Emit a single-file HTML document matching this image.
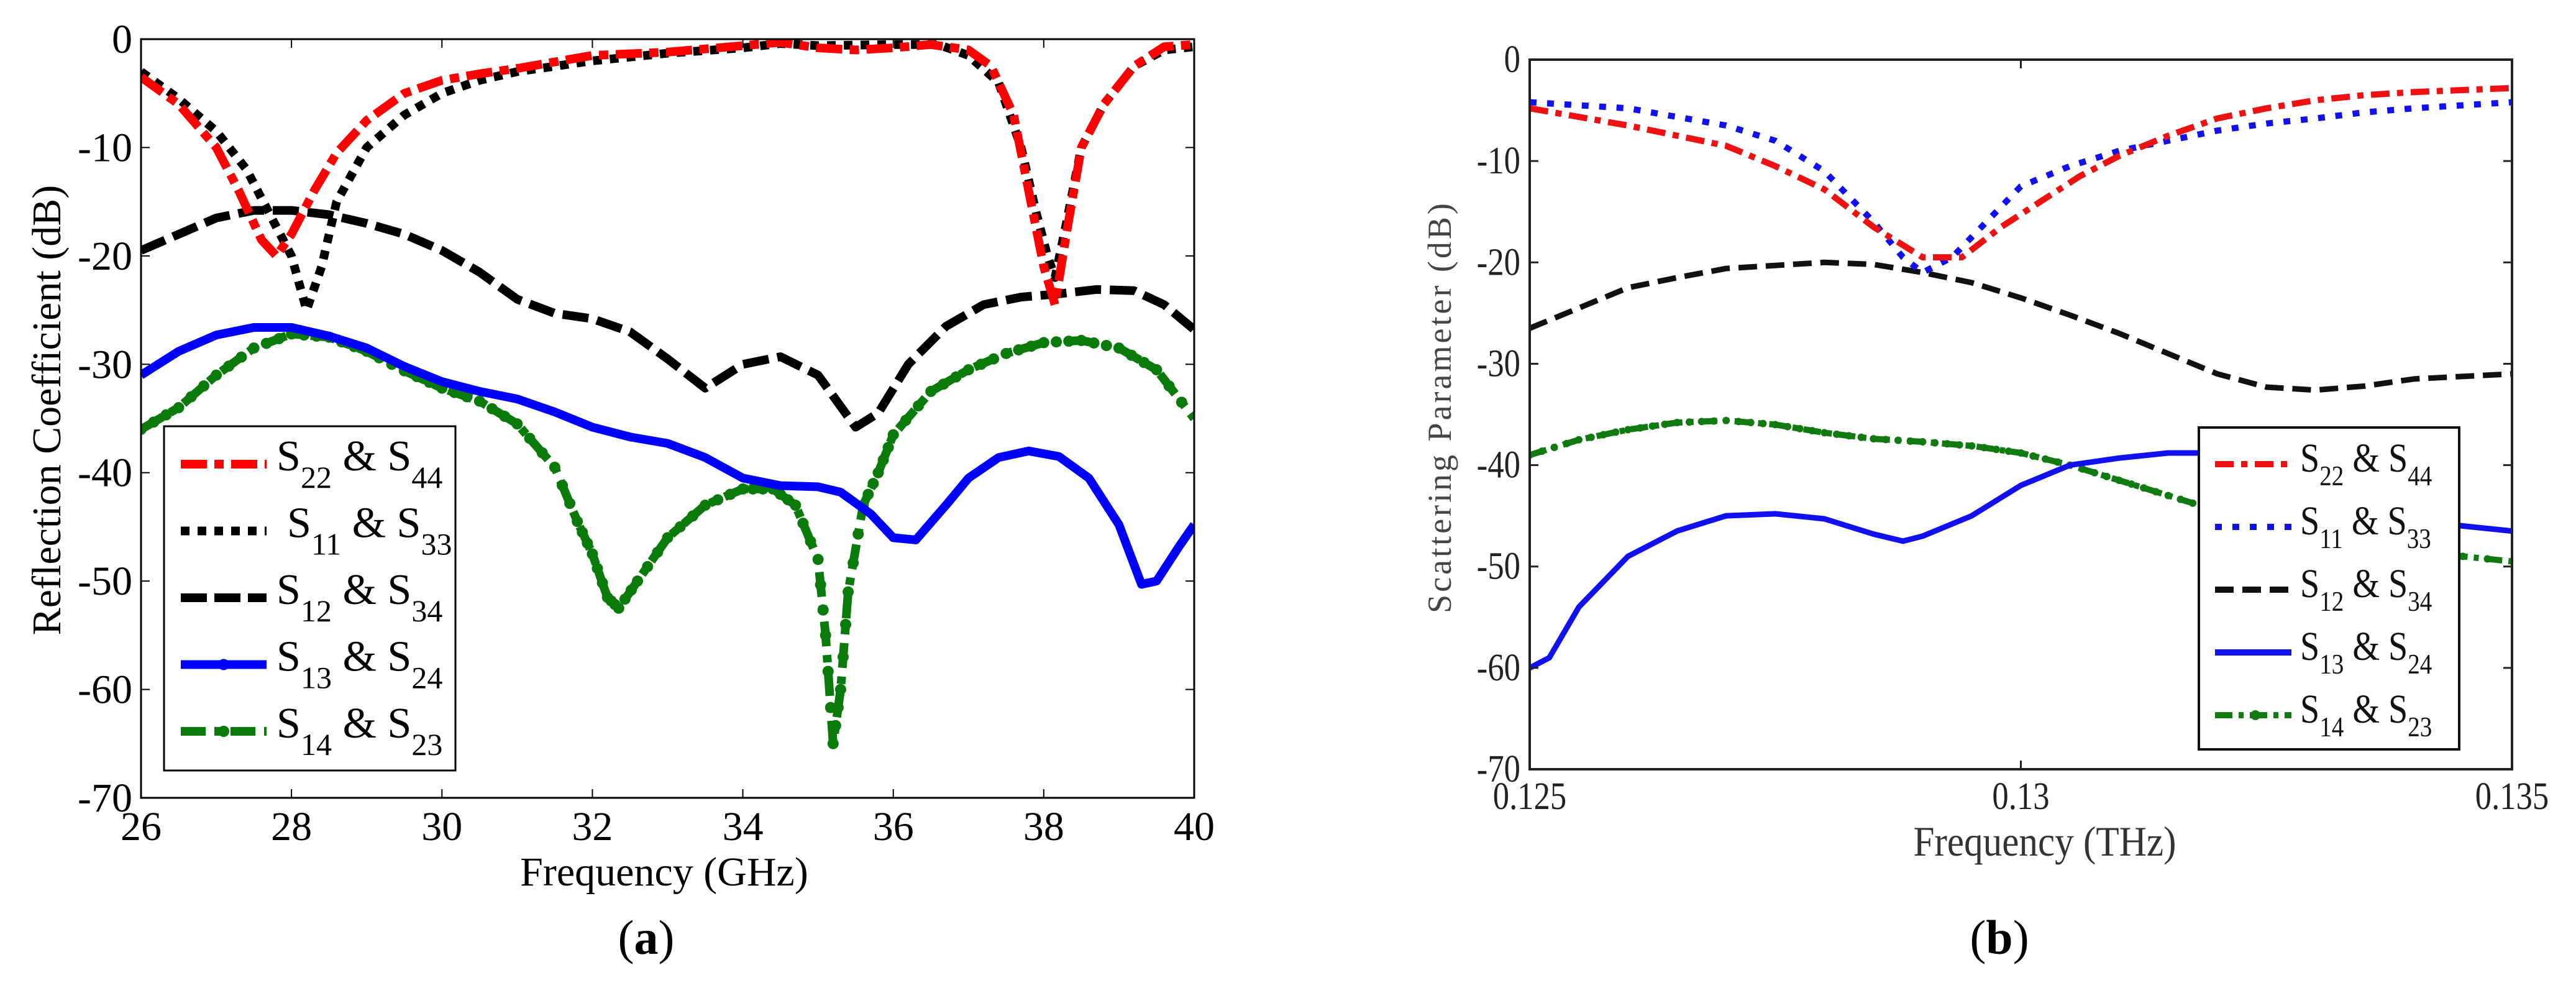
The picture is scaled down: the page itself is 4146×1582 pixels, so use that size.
<!DOCTYPE html>
<html><head><meta charset="utf-8"><style>
html,body{margin:0;padding:0;background:#fff;}
svg{display:block;}
svg text{font-family:"Liberation Serif","DejaVu Serif",serif;}
</style></head>
<body>
<svg id="fig" width="4146" height="1582" viewBox="0 0 4146 1582" xmlns="http://www.w3.org/2000/svg" font-family="Liberation Serif, DejaVu Serif, serif">
<g id="pa"></g>
<g id="pb"></g>
</svg>
<script>
// ===== Panel (a) data =====
const aS22x=[26,26.5,27,27.3,27.6,27.8,28,28.3,28.6,29,29.5,30,30.5,31,32,33,34,34.5,35,35.5,36,36.5,37,37.3,37.6,37.8,38,38.15,38.3,38.5,38.8,39.2,39.6,40];
const aS22y=[-3.5,-6,-10,-14,-18.5,-20,-18,-14,-10.5,-7.5,-5,-3.8,-3.2,-2.7,-1.5,-1.2,-0.6,-0.3,-0.8,-1,-0.8,-0.5,-1,-2.5,-7,-14,-21,-24.5,-18,-10,-6,-2.5,-0.7,-0.5];
const aS11x=[26,26.5,27,27.4,27.7,28,28.2,28.4,28.6,29,29.5,30,30.5,31,32,33,34,34.5,35,36,36.6,37,37.4,37.7,37.9,38.05,38.15,38.3,38.5,38.8,39.2,39.6,40];
const aS11y=[-3,-5.5,-8.5,-12,-16,-20,-25,-21,-15,-10,-7,-5,-3.8,-3,-2,-1.3,-0.8,-0.4,-0.6,-0.5,-0.5,-1.5,-4,-10,-16,-20,-22,-17,-10,-6,-2.5,-1,-0.7];
const aS12x=[26,26.5,27,27.5,28,28.5,29,29.5,30,30.5,31,31.5,32,32.5,33,33.5,34,34.5,35,35.5,35.8,36.2,36.7,37.2,37.7,38.2,38.7,39.2,39.6,40];
const aS12y=[-19.5,-18,-16.5,-15.8,-15.8,-16.2,-17,-18,-19.5,-21.5,-24,-25.3,-25.8,-27,-29.5,-32.2,-30,-29.3,-31,-35.8,-34.5,-30,-26.5,-24.5,-23.8,-23.5,-23.1,-23.2,-24.5,-26.8];
const aS13x=[26,26.5,27,27.5,28,28.5,29,29.5,30,30.5,31,31.5,32,32.5,33,33.5,34,34.5,35,35.3,35.7,36,36.3,36.7,37,37.4,37.8,38.2,38.6,39,39.3,39.5,39.8,40];
const aS13y=[-31,-28.8,-27.3,-26.6,-26.6,-27.4,-28.5,-30.2,-31.6,-32.5,-33.2,-34.4,-35.8,-36.7,-37.3,-38.6,-40.5,-41.2,-41.3,-41.8,-43.8,-46,-46.2,-43,-40.5,-38.6,-38,-38.5,-40.5,-44.8,-50.3,-50,-46.8,-44.8];
const aS14x=[26,26.5,27,27.5,28,28.5,29,29.5,30,30.5,31,31.5,31.8,32,32.2,32.35,32.6,33,33.5,34,34.4,34.7,35,35.1,35.2,35.3,35.4,35.6,35.8,36,36.5,37,37.5,38,38.5,39,39.5,40];
const aS14y=[-36,-34,-31,-28.5,-27.2,-27.5,-28.8,-30.6,-32.2,-33.4,-35.5,-39.5,-44.5,-47.5,-51.5,-52.5,-50,-46,-43,-41.5,-41.5,-43,-48,-55,-65,-60,-51,-43,-40,-36.5,-32.5,-30.5,-29,-28,-27.8,-28.5,-30.5,-35];
const aXTicks=[26,28,30,32,34,36,38,40];
const aYTicks=[0,-10,-20,-30,-40,-50,-60,-70];

// ===== Panel (b) data =====
const bS22x=[0.125,0.126,0.127,0.1275,0.128,0.1285,0.129,0.1294,0.1298,0.1302,0.1306,0.131,0.1315,0.132,0.1325,0.133,0.1335,0.134,0.135];
const bS22y=[-4.8,-6.5,-8.5,-10.5,-12.8,-16.5,-19.5,-19.5,-16.5,-14,-11.5,-9.5,-7.5,-5.8,-4.8,-4,-3.5,-3.2,-2.8];
const bS11x=[0.125,0.126,0.127,0.1275,0.128,0.1285,0.1288,0.129,0.1293,0.1296,0.13,0.1305,0.131,0.1315,0.132,0.1325,0.133,0.1335,0.134,0.135];
const bS11y=[-4.2,-4.8,-6.5,-8,-11,-16,-19.5,-21,-19.5,-16.5,-12.5,-10.5,-9,-8,-7,-6.3,-5.8,-5.2,-4.8,-4.2];
const bS12x=[0.125,0.1255,0.126,0.1265,0.127,0.1275,0.128,0.1285,0.129,0.1295,0.13,0.1305,0.131,0.1315,0.132,0.1325,0.133,0.1335,0.134,0.135];
const bS12y=[-26.5,-24.5,-22.5,-21.5,-20.6,-20.3,-20,-20.2,-21,-22,-23.5,-25.2,-27,-29,-31,-32.3,-32.6,-32.2,-31.5,-31];
const bS13x=[0.125,0.1252,0.1255,0.126,0.1265,0.127,0.1275,0.128,0.1285,0.1288,0.129,0.1295,0.13,0.1305,0.131,0.1315,0.132,0.1325,0.133,0.1335,0.134,0.135];
const bS13y=[-60,-59,-54,-49,-46.5,-45,-44.8,-45.3,-46.8,-47.5,-47,-45,-42,-40,-39.3,-38.8,-38.8,-40,-42,-44,-45.5,-46.5];
const bS14x=[0.125,0.1255,0.126,0.1265,0.127,0.1275,0.128,0.1285,0.129,0.1295,0.13,0.1305,0.131,0.1315,0.132,0.1325,0.133,0.1335,0.134,0.135];
const bS14y=[-39,-37.5,-36.5,-35.8,-35.6,-36,-36.8,-37.4,-37.7,-38.1,-38.8,-40,-41.5,-43,-44.5,-45.8,-47,-47.8,-48.5,-49.5];
const bXTicks=[0.125,0.13,0.135];
const bXLabels=["0.125","0.13","0.135"];
const bYTicks=[0,-10,-20,-30,-40,-50,-60,-70];

const NS="http://www.w3.org/2000/svg";
const FF="Liberation Serif, DejaVu Serif, serif";
function mk(parent,tag,attrs){const e=document.createElementNS(NS,tag);for(const k in attrs)e.setAttribute(k,attrs[k]);if(tag==='text')e.setAttribute('font-family',FF);parent.appendChild(e);return e;}
function pathD(xs,ys,X,Y){let d="";for(let i=0;i<xs.length;i++){d+=(i?"L":"M")+X(xs[i]).toFixed(1)+","+Y(ys[i]).toFixed(1);}return d;}

// ---------- Panel A ----------
(function(){
const g=document.getElementById('pa');
const L=227,R=1922,T=63,B=1284;
const X=v=>L+(v-26)/(40-26)*(R-L);
const Y=v=>T+(0-v)/70*(B-T);
const cp=mk(g,'clipPath',{id:'clipA'});mk(cp,'rect',{x:L,y:T,width:R-L,height:B-T});
const series=[
 {x:aS14x,y:aS14y,c:'#0a7a0a',w:14,da:'40 14 12 14',m:true,n:'series-s14-s23'},
 {x:aS13x,y:aS13y,c:'#0000ff',w:14,da:'',n:'series-s13-s24'},
 {x:aS12x,y:aS12y,c:'#000',w:14,da:'42 14',n:'series-s12-s34'},
 {x:aS11x,y:aS11y,c:'#000',w:14,da:'14 13',n:'series-s11-s33'},
 {x:aS22x,y:aS22y,c:'#ff0000',w:14,da:'42 12 15 12',n:'series-s22-s44'}];
series.forEach(s=>{
 const p=mk(g,'path',{d:pathD(s.x,s.y,X,Y),fill:'none',stroke:s.c,'stroke-width':s.w,'stroke-dasharray':s.da,'stroke-linejoin':'round','clip-path':'url(#clipA)'});
 
 
 if(s.m){for(let i=0;i<s.x.length-1;i++){for(let k=0;k<3;k++){const f=k/3;
  const c=mk(g,'circle',{cx:X(s.x[i]+(s.x[i+1]-s.x[i])*f),cy:Y(s.y[i]+(s.y[i+1]-s.y[i])*f),r:9,fill:s.c,'clip-path':'url(#clipA)'});
  
  }}}
});
const fr=mk(g,'rect',{x:L,y:T,width:R-L,height:B-T,fill:'none',stroke:'#000','stroke-width':3});


aXTicks.forEach(v=>{mk(g,'line',{x1:X(v),x2:X(v),y1:B,y2:B-14,stroke:'#000','stroke-width':2});mk(g,'line',{x1:X(v),x2:X(v),y1:T,y2:T+14,stroke:'#000','stroke-width':2});
 const t=mk(g,'text',{x:X(v),y:1352,'font-size':66,'text-anchor':'middle'});t.textContent=v;
 
 });
aYTicks.forEach(v=>{mk(g,'line',{x1:L,x2:L+14,y1:Y(v),y2:Y(v),stroke:'#000','stroke-width':2});mk(g,'line',{x1:R,x2:R-14,y1:Y(v),y2:Y(v),stroke:'#000','stroke-width':2});
 const t=mk(g,'text',{x:213,y:Y(v)+22,'font-size':66,'text-anchor':'end'});t.textContent=v;
 
 });
const xt=mk(g,'text',{x:1069,y:1425,'font-size':66,'text-anchor':'middle'});xt.textContent='Frequency (GHz)';


const yt=mk(g,'text',{x:0,y:0,'font-size':66,'text-anchor':'middle',transform:'translate(97,660) rotate(-90)'});yt.textContent='Reflection Coefficient (dB)';


const lg=mk(g,'g',{});


mk(lg,'rect',{x:264,y:686,width:469,height:554,fill:'#fff',stroke:'#000','stroke-width':3});
const ent=[['#ff0000','42 12 15 12','22','44',false,445],['#000','14 13','11','33',false,462],['#000','42 12','12','34',false,445],['#0000ff','','13','24',true,445],['#0a7a0a','40 14 12 14','14','23',true,445]];
ent.forEach((e,i)=>{const cy=747+i*107.5;
 const gg=mk(lg,'g',{});
 
 
 mk(gg,'line',{x1:291,x2:429,y1:cy,y2:cy,stroke:e[0],'stroke-width':14,'stroke-dasharray':e[1]});
 if(e[4])mk(gg,'circle',{cx:360,cy:cy,r:9,fill:e[0]});
 const t=mk(gg,'text',{x:e[5],y:cy+10,'font-size':70});
 t.innerHTML='S<tspan font-size="50" dy="28">'+e[2]+'</tspan><tspan dy="-28"> &amp; S</tspan><tspan font-size="50" dy="28">'+e[3]+'</tspan>';});
const cap=mk(g,'text',{x:1040,y:1535,'font-size':78,'text-anchor':'middle'});cap.innerHTML='(<tspan font-weight="bold">a</tspan>)';


})();

// ---------- Panel B ----------
(function(){
const g=document.getElementById('pb');
const L=2462,R=4043,T=96,B=1238;
const X=v=>L+(v-0.125)/(0.135-0.125)*(R-L);
const Y=v=>T+(0-v)/70*(B-T);
const cp=mk(g,'clipPath',{id:'clipB'});mk(cp,'rect',{x:L,y:T,width:R-L,height:B-T});
const series=[
 {x:bS14x,y:bS14y,c:'#117a11',w:10,da:'28 10 8 10',m:true,n:'series-b-s14-s23'},
 {x:bS13x,y:bS13y,c:'#1010f0',w:9,da:'',n:'series-b-s13-s24'},
 {x:bS12x,y:bS12y,c:'#111',w:9,da:'30 14',n:'series-b-s12-s34'},
 {x:bS11x,y:bS11y,c:'#1010f0',w:10,da:'11 17',n:'series-b-s11-s33'},
 {x:bS22x,y:bS22y,c:'#ee1111',w:10,da:'30 12 10 12',n:'series-b-s22-s44'}];
series.forEach(s=>{
 const p=mk(g,'path',{d:pathD(s.x,s.y,X,Y),fill:'none',stroke:s.c,'stroke-width':s.w,'stroke-dasharray':s.da,'stroke-linejoin':'round','clip-path':'url(#clipB)'});
 
 
 if(s.m){for(let i=0;i<s.x.length-1;i++){for(let k=0;k<4;k++){const f=k/4;
  const c=mk(g,'circle',{cx:X(s.x[i]+(s.x[i+1]-s.x[i])*f),cy:Y(s.y[i]+(s.y[i+1]-s.y[i])*f),r:6,fill:s.c,'clip-path':'url(#clipB)'});
  
  }}}
});
const fr=mk(g,'rect',{x:L,y:T,width:R-L,height:B-T,fill:'none',stroke:'#222','stroke-width':4});


bXTicks.forEach((v,i)=>{mk(g,'line',{x1:X(v),x2:X(v),y1:B,y2:B-14,stroke:'#222','stroke-width':3});mk(g,'line',{x1:X(v),x2:X(v),y1:T,y2:T+14,stroke:'#222','stroke-width':3});
 const t=mk(g,'text',{x:0,y:0,'font-size':62,'text-anchor':'middle',fill:'#222',transform:'translate('+X(v)+',1302) scale(0.85,1)'});t.textContent=bXLabels[i];
 
 });
bYTicks.forEach(v=>{mk(g,'line',{x1:L,x2:L+14,y1:Y(v),y2:Y(v),stroke:'#222','stroke-width':3});mk(g,'line',{x1:R,x2:R-14,y1:Y(v),y2:Y(v),stroke:'#222','stroke-width':3});
 const t=mk(g,'text',{x:0,y:0,'font-size':62,'text-anchor':'end',fill:'#222',transform:'translate(2447,'+(Y(v)+20)+') scale(0.85,1)'});t.textContent=v;
 
 });
const xt=mk(g,'text',{x:0,y:0,'font-size':68,'text-anchor':'middle',fill:'#333',transform:'translate(3291,1377) scale(0.9,1)'});xt.textContent='Frequency (THz)';


const yt=mk(g,'text',{x:0,y:0,'font-size':54,'text-anchor':'middle',fill:'#444','letter-spacing':'4',transform:'translate(2335,655) rotate(-90)'});yt.textContent='Scattering Parameter (dB)';


const lg=mk(g,'g',{});


mk(lg,'rect',{x:3539,y:688,width:419,height:518,fill:'#fff',stroke:'#111','stroke-width':4});
const ent=[['#ee1111','30 12 10 12','22','44',false],['#1010f0','11 17','11','33',false],['#111','30 14','12','34',false],['#1010f0','','13','24',false],['#117a11','28 10 8 10','14','23',true]];
ent.forEach((e,i)=>{const cy=747+i*101;
 const gg=mk(lg,'g',{});
 
 
 mk(gg,'line',{x1:3565,x2:3688,y1:cy,y2:cy,stroke:e[0],'stroke-width':10,'stroke-dasharray':e[1]});
 if(e[4])mk(gg,'circle',{cx:3630,cy:cy,r:8,fill:e[0]});
 const t=mk(gg,'text',{x:0,y:0,'font-size':66,fill:'#111',transform:'translate(3702,'+(cy+12)+') scale(0.85,1)'});
 t.innerHTML='S<tspan font-size="46" dy="22">'+e[2]+'</tspan><tspan dy="-22"> &amp; S</tspan><tspan font-size="46" dy="22">'+e[3]+'</tspan>';});
const cap=mk(g,'text',{x:3218,y:1535,'font-size':78,'text-anchor':'middle'});cap.innerHTML='(<tspan font-weight="bold">b</tspan>)';


})();
</script>
</body></html>
